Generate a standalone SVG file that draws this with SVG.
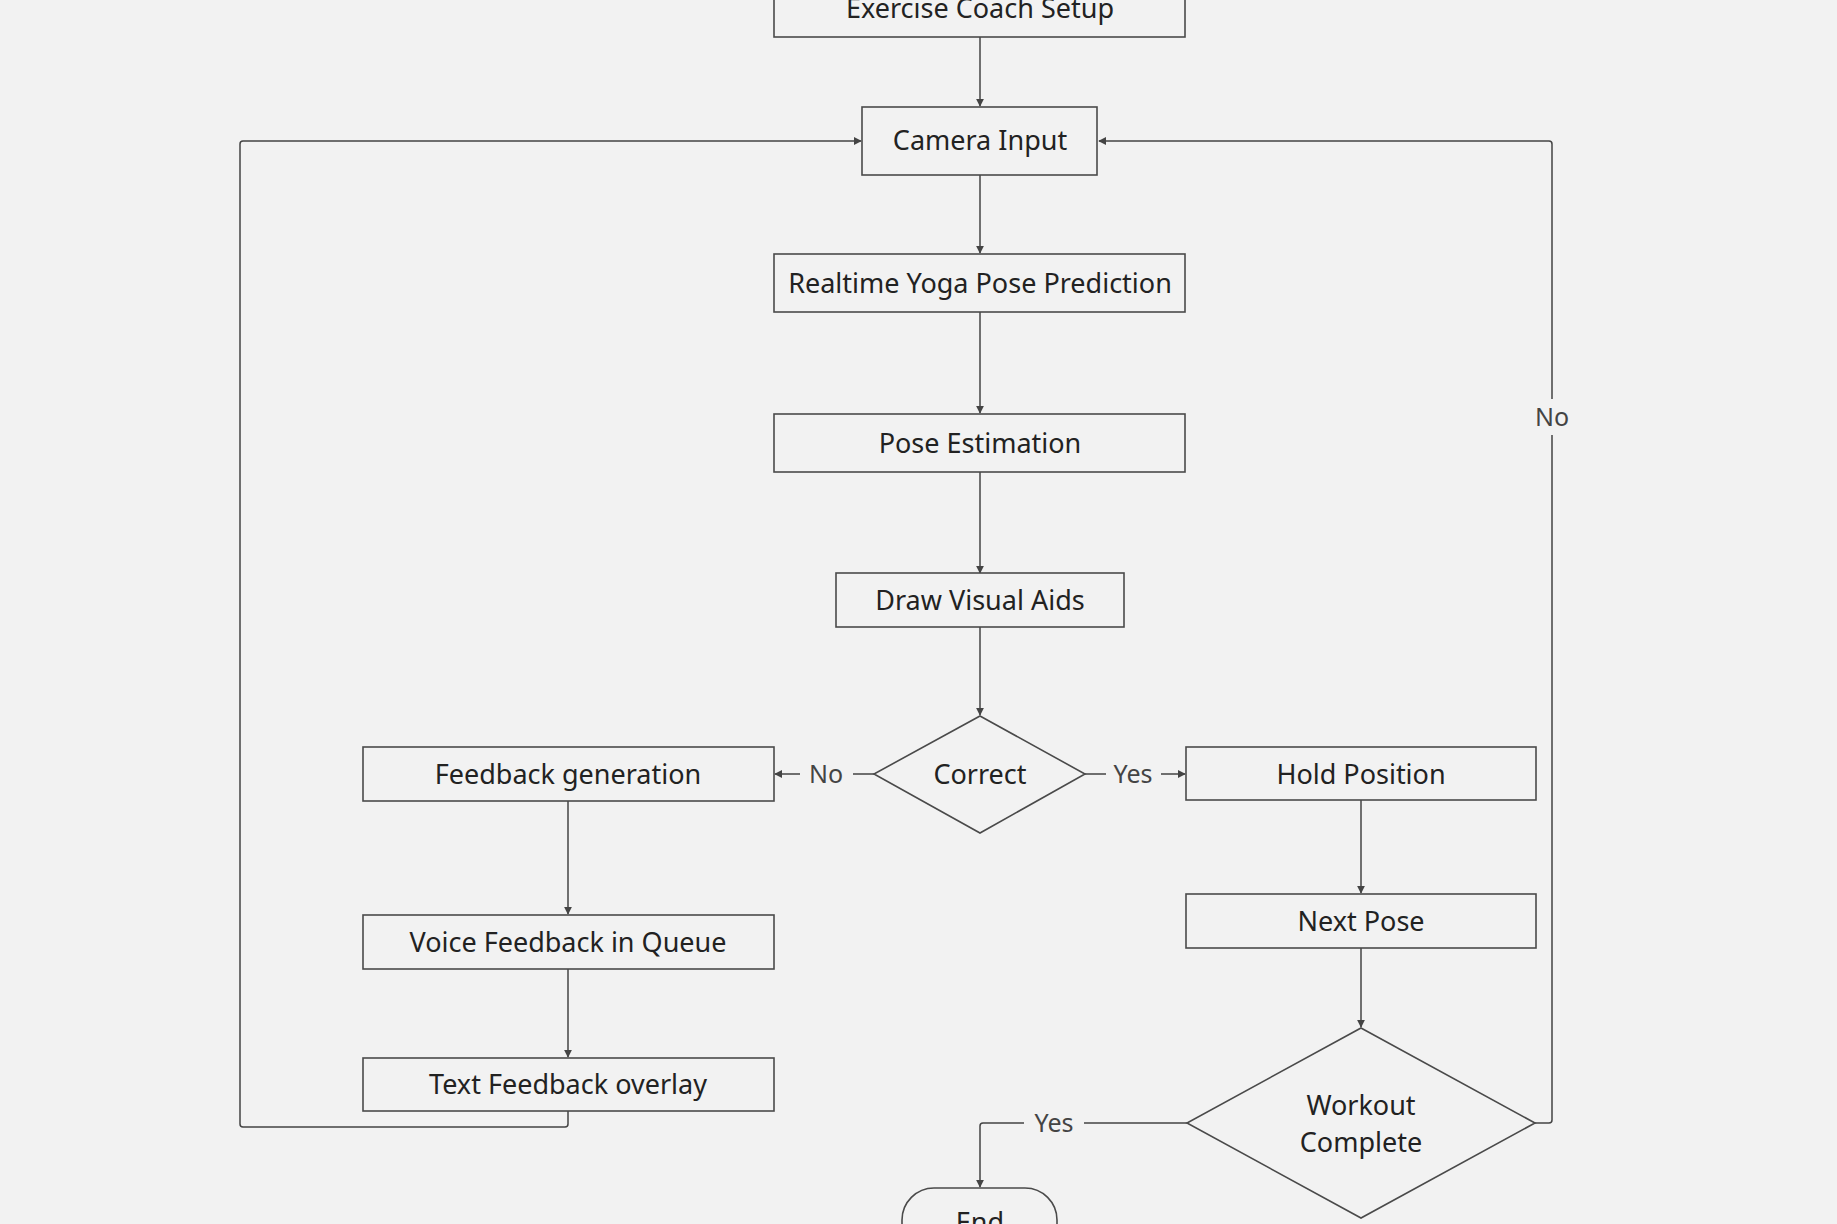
<svg xmlns="http://www.w3.org/2000/svg" width="1837" height="1224" viewBox="0 0 1837 1224">
<defs>
<marker id="ah" viewBox="0 0 10 10" refX="9" refY="5" markerWidth="8" markerHeight="8" markerUnits="userSpaceOnUse" orient="auto">
<path d="M0,0 L10,5 L0,10 z" fill="#444"/>
</marker>
<style>
.box{fill:#f2f2f2;stroke:#4a4a4a;stroke-width:1.6}
.t{font-family:"Noto Sans","Open Sans",sans-serif;font-size:27px;fill:#222;text-anchor:middle}
.lbl{font-family:"Noto Sans","Open Sans",sans-serif;font-size:25px;fill:#444;text-anchor:middle}
.c{fill:none;stroke:#444;stroke-width:1.5}
.bg{fill:#f2f2f2}
</style>
</defs>
<rect width="1837" height="1224" fill="#f2f2f2"/>
<g id="connectors">
<path class="c" d="M980,37 V106" marker-end="url(#ah)"/>
<path class="c" d="M980,175 V253" marker-end="url(#ah)"/>
<path class="c" d="M980,312 V413" marker-end="url(#ah)"/>
<path class="c" d="M980,472 V573" marker-end="url(#ah)"/>
<path class="c" d="M980,627 V715" marker-end="url(#ah)"/>
<path class="c" d="M874,774 H853 M800,774 H775" marker-end="url(#ah)"/>
<path class="c" d="M1085,774 H1106 M1161,774 H1185" marker-end="url(#ah)"/>
<path class="c" d="M568,801 V914" marker-end="url(#ah)"/>
<path class="c" d="M568,969 V1057" marker-end="url(#ah)"/>
<path class="c" d="M568,1111 V1124 Q568,1127 565,1127 H243 Q240,1127 240,1124 V144 Q240,141 243,141 H861" marker-end="url(#ah)"/>
<path class="c" d="M1361,800 V893" marker-end="url(#ah)"/>
<path class="c" d="M1361,948 V1027" marker-end="url(#ah)"/>
<path class="c" d="M1187,1123 H1084 M1024,1123 H983 Q980,1123 980,1126 V1187" marker-end="url(#ah)"/>
<path class="c" d="M1535,1123 H1549 Q1552,1123 1552,1120 V435 M1552,399 V144 Q1552,141 1549,141 H1099" marker-end="url(#ah)"/>
<text class="lbl" x="826" y="783">No</text>
<text class="lbl" x="1133" y="783">Yes</text>
<text class="lbl" x="1054" y="1132">Yes</text>
<text class="lbl" x="1552" y="426">No</text>
</g>
<g id="n-setup"><rect class="box" x="774" y="-21" width="411" height="58"/><text class="t" x="980" y="18">Exercise Coach Setup</text></g>
<g id="n-camera"><rect class="box" x="862" y="107" width="235" height="68"/><text class="t" x="980" y="150">Camera Input</text></g>
<g id="n-realtime"><rect class="box" x="774" y="254" width="411" height="58"/><text class="t" x="980" y="293">Realtime Yoga Pose Prediction</text></g>
<g id="n-pose"><rect class="box" x="774" y="414" width="411" height="58"/><text class="t" x="980" y="453">Pose Estimation</text></g>
<g id="n-draw"><rect class="box" x="836" y="573" width="288" height="54"/><text class="t" x="980" y="610">Draw Visual Aids</text></g>
<g id="n-correct"><polygon class="box" points="980,716 1085,774 980,833 874,774"/><text class="t" x="980" y="784">Correct</text></g>
<g id="n-feedback"><rect class="box" x="363" y="747" width="411" height="54"/><text class="t" x="568" y="784">Feedback generation</text></g>
<g id="n-voice"><rect class="box" x="363" y="915" width="411" height="54"/><text class="t" x="568" y="952">Voice Feedback in Queue</text></g>
<g id="n-text"><rect class="box" x="363" y="1058" width="411" height="53"/><text class="t" x="568" y="1094">Text Feedback overlay</text></g>
<g id="n-hold"><rect class="box" x="1186" y="747" width="350" height="53"/><text class="t" x="1361" y="784">Hold Position</text></g>
<g id="n-next"><rect class="box" x="1186" y="894" width="350" height="54"/><text class="t" x="1361" y="931">Next Pose</text></g>
<g id="n-workout"><polygon class="box" points="1361,1028 1535,1123 1361,1218 1187,1123"/><text class="t" x="1361" y="1115">Workout</text><text class="t" x="1361" y="1152">Complete</text></g>
<g id="n-end"><rect class="box" x="902" y="1188" width="155" height="68" rx="32"/><text class="t" x="980" y="1232">End</text></g>
</svg>
